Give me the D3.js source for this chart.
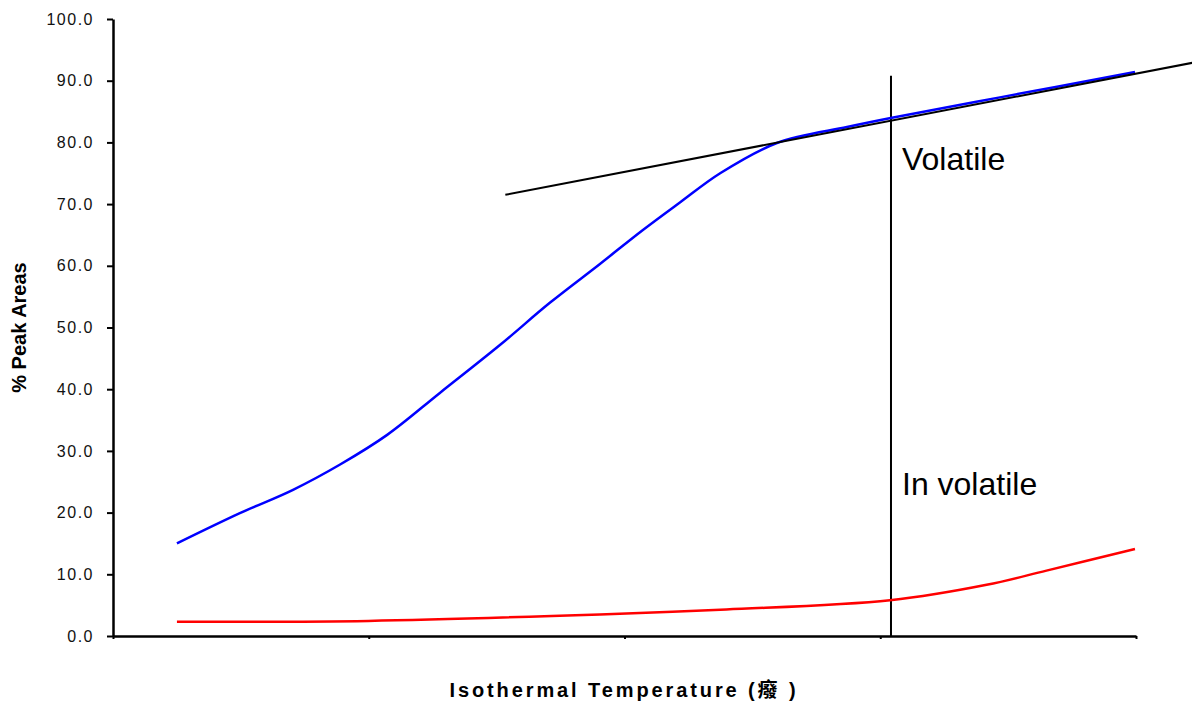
<!DOCTYPE html>
<html>
<head>
<meta charset="utf-8">
<script src="https://cdn.jsdelivr.net/npm/d3@7"></script>
<style>
  html, body { margin: 0; padding: 0; background: #fff; }
  svg { display: block; font-family: "Liberation Sans", Arial, "Noto Sans CJK TC", sans-serif; }
</style>
</head>
<body>
<svg id="chart" width="1192" height="702"></svg>
<script>
// temperature positions (axis runs 0..200, no labels shown)
const volTemps = [12.5, 24.8, 35.2, 44.4, 53.6, 63.9, 75.7, 85.4, 95.2, 103.6, 110.9, 118.7, 129.8, 143.5, 152.3, 173.4, 199.8];
const volatileArea = [15.0, 19.9, 23.7, 27.8, 32.6, 39.4, 47.2, 54.0, 60.3, 65.8, 70.3, 75.0, 79.9, 82.5, 84.0, 87.3, 91.4];

const invTemps = [12.5, 49.9, 95.2, 119.9, 151.9, 170.8, 182.5, 199.8];
const involatileArea = [2.3, 2.45, 3.5, 4.3, 5.8, 8.3, 10.6, 14.1];

const trendLine = [{ t: 76.7, v: 71.5 }, { t: 211.0, v: 92.9 }];
const cutoffTemp = 152.1;
const cutoffTop = 90.8;

const yTicks = [0, 10, 20, 30, 40, 50, 60, 70, 80, 90, 100];
const xTicks = [0, 50, 100, 150, 200];

const svg = d3.select('#chart');
const margin = { left: 113, right: 56, top: 19, bottom: 66 };
const width = 1192, height = 702;

const x = d3.scaleLinear().domain([0, 200]).range([margin.left, width - margin.right]);
const y = d3.scaleLinear().domain([0, 100]).range([height - margin.bottom, margin.top]);

// axes
const yAxis = svg.append("g")
    .attr("transform", `translate(${margin.left},0)`)
    .call(d3.axisLeft(y).tickValues(yTicks).tickFormat(d3.format(".1f")).tickSize(6).tickSizeOuter(0));
yAxis.select(".domain").attr("stroke-width", 2.5);
yAxis.selectAll(".tick line").attr("stroke-width", 2);
yAxis.selectAll(".tick text")
    .attr("x", -19)
    .attr("font-size", "16px")
    .attr("letter-spacing", "1.5px")
    .attr("fill", "#111")
    .attr("font-family", "Liberation Sans, Arial, sans-serif");

const xAxis = svg.append("g")
    .attr("transform", `translate(0,${y(0)})`)
    .call(d3.axisBottom(x).tickValues(xTicks).tickFormat("").tickSize(3).tickSizeOuter(0));
xAxis.select(".domain").attr("stroke-width", 2.5);
xAxis.selectAll(".tick line").attr("stroke-width", 2);

// axis titles
svg.append("text")
    .attr("transform", `translate(26,${(y(0) + y(100)) / 2}) rotate(-90)`)
    .attr("text-anchor", "middle")
    .attr("font-size", "20px")
    .attr("font-weight", "bold")
    .attr("fill", "#000")
    .text("% Peak Areas");

svg.append("text")
    .attr("x", 624)
    .attr("y", 697)
    .attr("text-anchor", "middle")
    .attr("font-size", "20px")
    .attr("font-weight", "bold")
    .attr("letter-spacing", "2.9px")
    .attr("fill", "#000")
    .text("Isothermal Temperature (癈 )");

const line = d3.line()
    .x(d => x(d[0]))
    .y(d => y(d[1]))
    .curve(d3.curveCatmullRom.alpha(0.5));

// cutoff vertical line
svg.append("line")
    .attr("x1", x(cutoffTemp)).attr("x2", x(cutoffTemp))
    .attr("y1", y(cutoffTop)).attr("y2", y(0))
    .attr("stroke", "#000")
    .attr("stroke-width", 2);

// series
svg.append("path")
    .datum(invTemps.map((t, i) => [t, involatileArea[i]]))
    .attr("fill", "none")
    .attr("stroke", "#ff0000")
    .attr("stroke-width", 2.5)
    .attr("d", line);

svg.append("path")
    .datum(volTemps.map((t, i) => [t, volatileArea[i]]))
    .attr("fill", "none")
    .attr("stroke", "#0000ff")
    .attr("stroke-width", 2.5)
    .attr("d", line);

// tangent line
svg.append("line")
    .attr("x1", x(trendLine[0].t)).attr("y1", y(trendLine[0].v))
    .attr("x2", x(trendLine[1].t)).attr("y2", y(trendLine[1].v))
    .attr("stroke", "#000")
    .attr("stroke-width", 2);

// labels
svg.append("text")
    .attr("x", x(cutoffTemp) + 11)
    .attr("y", y(75.5))
    .attr("font-size", "32px")
    .attr("fill", "#000")
    .text("Volatile");

svg.append("text")
    .attr("x", x(cutoffTemp) + 11)
    .attr("y", y(22.9))
    .attr("font-size", "32px")
    .attr("fill", "#000")
    .text("In volatile");
</script>
</body>
</html>
